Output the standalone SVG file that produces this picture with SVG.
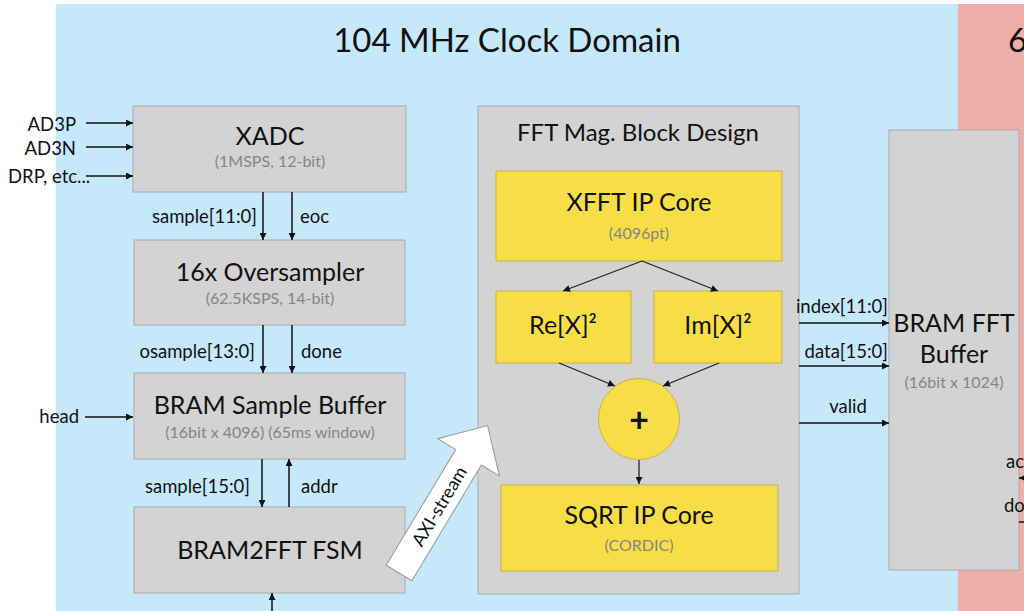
<svg xmlns="http://www.w3.org/2000/svg" width="1024" height="611" viewBox="0 0 1024 611">
  <style>
    text { font-family: Lato, "Open Sans", "Liberation Sans", sans-serif; fill: #111; }
    .box { fill: #d3d3d3; stroke: #aaaaaa; stroke-width: 1; }
    .ybox { fill: #f8de46; stroke: #c8b14a; stroke-width: 1; }
    .title { font-size: 25px; text-anchor: middle; }
    .sub { font-size: 16px; fill: #858585; text-anchor: middle; }
    .lbl { font-size: 18.5px; }
    .wire { stroke: #111; stroke-width: 1.5; fill: none; marker-end: url(#arr); }
    .thin { stroke: #222; stroke-width: 1.3; fill: none; marker-end: url(#arr); }
  </style>
  <defs>
    <marker id="arr" viewBox="0 0 10 10" refX="10" refY="5" markerWidth="8" markerHeight="7" markerUnits="userSpaceOnUse" orient="auto">
      <path d="M0,0 L10,5 L0,10 z" fill="#111"/>
    </marker>
  </defs>

  <!-- clock domains -->
  <rect x="0" y="0" width="1024" height="611" fill="#ffffff"/>
  <rect x="56" y="4" width="902" height="607" fill="#c6e8fb"/>
  <rect x="958" y="4" width="66" height="607" fill="#eeafaa"/>
  <text x="507" y="52" font-size="33" text-anchor="middle">104 MHz Clock Domain</text>
  <text x="1008" y="52" font-size="33">6</text>

  <!-- left column -->
  <g id="xadc">
    <rect class="box" x="133" y="106" width="273" height="86"/>
    <text class="title" x="270" y="145">XADC</text>
    <text class="sub" x="270" y="167">(1MSPS, 12-bit)</text>
  </g>
  <g id="oversampler">
    <rect class="box" x="134" y="240" width="271" height="85"/>
    <text class="title" x="270" y="281">16x Oversampler</text>
    <text class="sub" x="270" y="304">(62.5KSPS, 14-bit)</text>
  </g>
  <g id="sample-buffer">
    <rect class="box" x="134" y="373" width="271" height="86"/>
    <text class="title" x="270" y="414">BRAM Sample Buffer</text>
    <text class="sub" x="270" y="438">(16bit x 4096) (65ms window)</text>
  </g>
  <g id="bram2fft">
    <rect class="box" x="134" y="507" width="271" height="86"/>
    <text class="title" x="270" y="559">BRAM2FFT FSM</text>
  </g>

  <!-- FFT magnitude block design -->
  <g id="fft-mag">
    <rect class="box" x="478" y="106" width="321" height="488"/>
    <text x="638" y="141" font-size="24" text-anchor="middle">FFT Mag. Block Design</text>
  </g>
  <g id="xfft">
    <rect class="ybox" x="496" y="171" width="286" height="90"/>
    <text class="title" x="639" y="211">XFFT IP Core</text>
    <text class="sub" x="639" y="239">(4096pt)</text>
  </g>
  <g id="re-sq">
    <rect class="ybox" x="496" y="291" width="135" height="72"/>
    <text class="title" x="563" y="334">Re[X]²</text>
  </g>
  <g id="im-sq">
    <rect class="ybox" x="654" y="291" width="128" height="72"/>
    <text class="title" x="718" y="334">Im[X]²</text>
  </g>
  <g id="adder">
    <circle cx="639" cy="419" r="40.5" fill="#f8de46" stroke="#c8b14a" stroke-width="1"/>
    <text x="639" y="432" font-size="34" font-weight="bold" text-anchor="middle">+</text>
  </g>
  <g id="sqrt">
    <rect class="ybox" x="501" y="485" width="277" height="86"/>
    <text class="title" x="639" y="524">SQRT IP Core</text>
    <text class="sub" x="639" y="551">(CORDIC)</text>
  </g>

  <!-- output buffer -->
  <g id="fft-buffer">
    <rect class="box" x="889" y="130" width="130" height="440"/>
    <text class="title" x="954" y="332">BRAM FFT</text>
    <text class="title" x="954" y="363">Buffer</text>
    <text class="sub" x="954" y="388">(16bit x 1024)</text>
  </g>

  <!-- AXI-stream block arrow -->
  <g id="axi-stream" transform="translate(399,573) rotate(-59)">
    <path d="M0,-15 L135,-15 L135,-36 L172,0 L135,36 L135,15 L0,15 z" fill="#ffffff" stroke="#999" stroke-width="1"/>
    <text x="78" y="6.5" font-size="18" text-anchor="middle">AXI-stream</text>
  </g>

  <!-- connectors -->
  <g id="connectors">
    <line class="wire" x1="86" y1="123" x2="133" y2="123"/>
    <line class="wire" x1="86" y1="147" x2="133" y2="147"/>
    <line class="wire" x1="86" y1="176" x2="133" y2="176"/>
    <line class="wire" x1="263" y1="192" x2="263" y2="240"/>
    <line class="wire" x1="292" y1="192" x2="292" y2="240"/>
    <line class="wire" x1="263" y1="325" x2="263" y2="373"/>
    <line class="wire" x1="292" y1="325" x2="292" y2="373"/>
    <line class="wire" x1="85" y1="417" x2="133" y2="417"/>
    <line class="wire" x1="262" y1="459" x2="262" y2="507"/>
    <line class="wire" x1="289" y1="507" x2="289" y2="459"/>
    <line class="wire" x1="272" y1="611" x2="272" y2="593"/>

    <line class="thin" x1="642" y1="261" x2="563" y2="291"/>
    <line class="thin" x1="642" y1="261" x2="718" y2="291"/>
    <line class="thin" x1="559" y1="363" x2="615" y2="386"/>
    <line class="thin" x1="719" y1="363" x2="663" y2="386"/>
    <line class="thin" x1="639" y1="460" x2="639" y2="484"/>

    <line class="wire" x1="799" y1="323" x2="889" y2="323"/>
    <line class="wire" x1="799" y1="366" x2="889" y2="366"/>
    <line class="wire" x1="799" y1="423" x2="889" y2="423"/>

    <line class="wire" x1="1024" y1="478" x2="1019" y2="478"/>
    <line stroke="#111" stroke-width="1.5" x1="1019" y1="522" x2="1024" y2="522"/>
  </g>

  <!-- signal labels -->
  <g id="labels">
    <text class="lbl" x="76" y="131" text-anchor="end">AD3P</text>
    <text class="lbl" x="76" y="155" text-anchor="end">AD3N</text>
    <text class="lbl" x="8" y="183">DRP, etc...</text>
    <text class="lbl" x="257" y="223" text-anchor="end">sample[11:0]</text>
    <text class="lbl" x="300" y="223">eoc</text>
    <text class="lbl" x="255" y="358" text-anchor="end">osample[13:0]</text>
    <text class="lbl" x="301" y="358">done</text>
    <text class="lbl" x="79" y="423" text-anchor="end">head</text>
    <text class="lbl" x="250" y="493" text-anchor="end">sample[15:0]</text>
    <text class="lbl" x="301" y="493">addr</text>
    <text class="lbl" x="888" y="313" text-anchor="end">index[11:0]</text>
    <text class="lbl" x="888" y="358" text-anchor="end">data[15:0]</text>
    <text class="lbl" x="848" y="413" text-anchor="middle">valid</text>
    <text class="lbl" x="1006" y="468">ac</text>
    <text class="lbl" x="1004" y="512">do</text>
  </g>
</svg>
